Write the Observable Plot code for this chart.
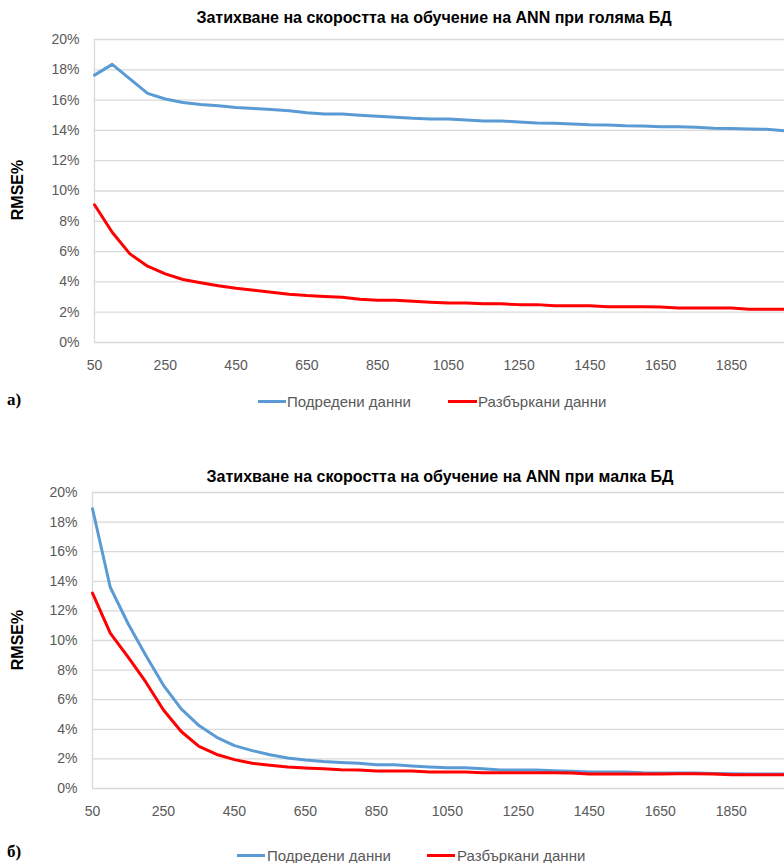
<!DOCTYPE html>
<html>
<head>
<meta charset="utf-8">
<script src="https://cdn.jsdelivr.net/npm/d3@7"></script>
<script src="https://cdn.jsdelivr.net/npm/@observablehq/plot@0.6"></script>
<style>
  html, body { margin: 0; padding: 0; background: #fff; }
  body { width: 784px; height: 863px; overflow: hidden; position: relative; font-family: "Liberation Sans", Arial, sans-serif; }
  .abs { position: absolute; white-space: nowrap; }
  .title { font-weight: bold; font-size: 16px; color: #000; transform: translate(-50%, -50%); }
  .ylab { font-size: 16px; font-weight: bold; color: #000; transform: translate(-50%, -50%) rotate(-90deg); }
  .leg { font-size: 15px; color: #595959; transform: translateY(-50%); }
  .sw { position: absolute; height: 3px; }
  .panel { font-family: "Liberation Serif", "Times New Roman", serif; font-size: 17px; font-weight: bold; color: #000; transform: translateY(-50%); }
  svg { position: absolute; overflow: visible; }
</style>
</head>
<body>
<script>
// ---- Data ----
const iterations = [50,100,150,200,250,300,350,400,450,500,550,600,650,700,750,800,850,900,950,1000,
                    1050,1100,1150,1200,1250,1300,1350,1400,1450,1500,1550,1600,1650,1700,1750,1800,1850,1900,1950,2000];
const xTickLabels = [50,250,450,650,850,1050,1250,1450,1650,1850];
const yTicks = [0,2,4,6,8,10,12,14,16,18,20];

// а) голяма БД
const bigOrdered = [17.65,18.36,17.4,16.44,16.07,15.84,15.71,15.62,15.51,15.44,15.38,15.29,15.16,15.09,15.09,15.0,14.93,14.87,14.8,14.76,
                    14.76,14.69,14.62,14.62,14.56,14.49,14.47,14.42,14.37,14.36,14.31,14.29,14.24,14.24,14.2,14.14,14.13,14.09,14.07,13.98];
const bigShuffled = [9.09,7.28,5.85,5.04,4.53,4.16,3.94,3.74,3.58,3.45,3.32,3.19,3.1,3.04,2.98,2.86,2.79,2.79,2.72,2.65,
                     2.6,2.6,2.55,2.55,2.5,2.5,2.42,2.42,2.42,2.36,2.36,2.36,2.35,2.28,2.28,2.28,2.27,2.2,2.2,2.2];
// б) малка БД
const smallOrdered = [18.9,13.6,11.15,9.0,6.97,5.38,4.25,3.46,2.9,2.56,2.28,2.06,1.92,1.82,1.75,1.7,1.6,1.6,1.52,1.45,
                      1.4,1.4,1.33,1.25,1.25,1.25,1.2,1.17,1.12,1.12,1.12,1.07,1.05,1.05,1.04,1.02,1.0,0.98,0.98,0.98];
const smallShuffled = [13.2,10.5,8.9,7.2,5.3,3.85,2.85,2.3,1.95,1.7,1.57,1.45,1.38,1.33,1.27,1.25,1.18,1.18,1.18,1.12,
                       1.12,1.12,1.06,1.06,1.06,1.06,1.06,1.04,0.98,0.98,0.98,0.98,0.98,1.0,1.0,0.98,0.93,0.93,0.93,0.93];

const seriesNames = ["Подредени данни", "Разбъркани данни"];
const seriesColors = ["#5b9bd5", "#ff0000"];
const titles = ["Затихване на скоростта на обучение на ANN при голяма БД",
                "Затихване на скоростта на обучение на ANN при малка БД"];
const yLabel = "RMSE%";
const panelLabels = ["а)", "б)"];

function rows(vals) { return iterations.map((n, i) => ({n, v: vals[i]})); }

function makeChart(ordered, shuffled, opts) {
  const chart = Plot.plot({
    width: 784,
    height: opts.height,
    marginLeft: opts.marginLeft,
    marginRight: 0,
    marginTop: opts.marginTop,
    marginBottom: opts.marginBottom,
    style: {fontFamily: '"Liberation Sans", Arial, sans-serif', fontSize: "14px", color: "#595959", background: "transparent"},
    x: {type: "linear", domain: [50, 2000], ticks: xTickLabels, tickFormat: d3.format("d"), tickSize: 0, tickPadding: 18, label: null},
    y: {domain: [0, 20], ticks: yTicks, tickFormat: d => d + "%", tickSize: 0, tickPadding: 15, label: null},
    marks: [
      Plot.ruleY(yTicks, {stroke: "#d9d9d9", strokeWidth: 1.3}),
      Plot.ruleX([50], {y1: 0, y2: 20, stroke: "#d9d9d9", strokeWidth: 1.3}),
      Plot.line(rows(ordered), {x: "n", y: "v", stroke: seriesColors[0], strokeWidth: 3, strokeLinejoin: "round"}),
      Plot.line(rows(shuffled), {x: "n", y: "v", stroke: seriesColors[1], strokeWidth: 3, strokeLinejoin: "round"})
    ]
  });
  chart.style.left = "0px";
  chart.style.top = opts.top + "px";
  document.body.appendChild(chart);
}

function addText(cls, text, x, y) {
  const d = document.createElement("div");
  d.className = "abs " + cls;
  d.textContent = text;
  d.style.left = x + "px";
  d.style.top = y + "px";
  document.body.appendChild(d);
}
function addSwatch(color, x1, x2, y) {
  const d = document.createElement("div");
  d.className = "sw";
  d.style.background = color;
  d.style.left = x1 + "px";
  d.style.width = (x2 - x1) + "px";
  d.style.top = (y - 1.5) + "px";
  document.body.appendChild(d);
}

// Chart а)
addText("title", titles[0], 434, 18);
makeChart(bigOrdered, bigShuffled, {top: 0, height: 380, marginTop: 39, marginBottom: 38, marginLeft: 94});
addText("ylab", yLabel, 18, 190);
addSwatch(seriesColors[0], 258, 286, 401);
addText("leg", seriesNames[0], 287, 401);
addSwatch(seriesColors[1], 448, 477, 401);
addText("leg", seriesNames[1], 478, 401);
addText("panel", panelLabels[0], 7, 400);

// Chart б)
addText("title", titles[1], 440, 477);
makeChart(smallOrdered, smallShuffled, {top: 440, height: 386, marginTop: 52, marginBottom: 38, marginLeft: 92});
addText("ylab", yLabel, 18, 640);
addSwatch(seriesColors[0], 237, 265, 855);
addText("leg", seriesNames[0], 267, 855);
addSwatch(seriesColors[1], 427, 455, 855);
addText("leg", seriesNames[1], 457, 855);
addText("panel", panelLabels[1], 7, 852);
</script>
</body>
</html>
